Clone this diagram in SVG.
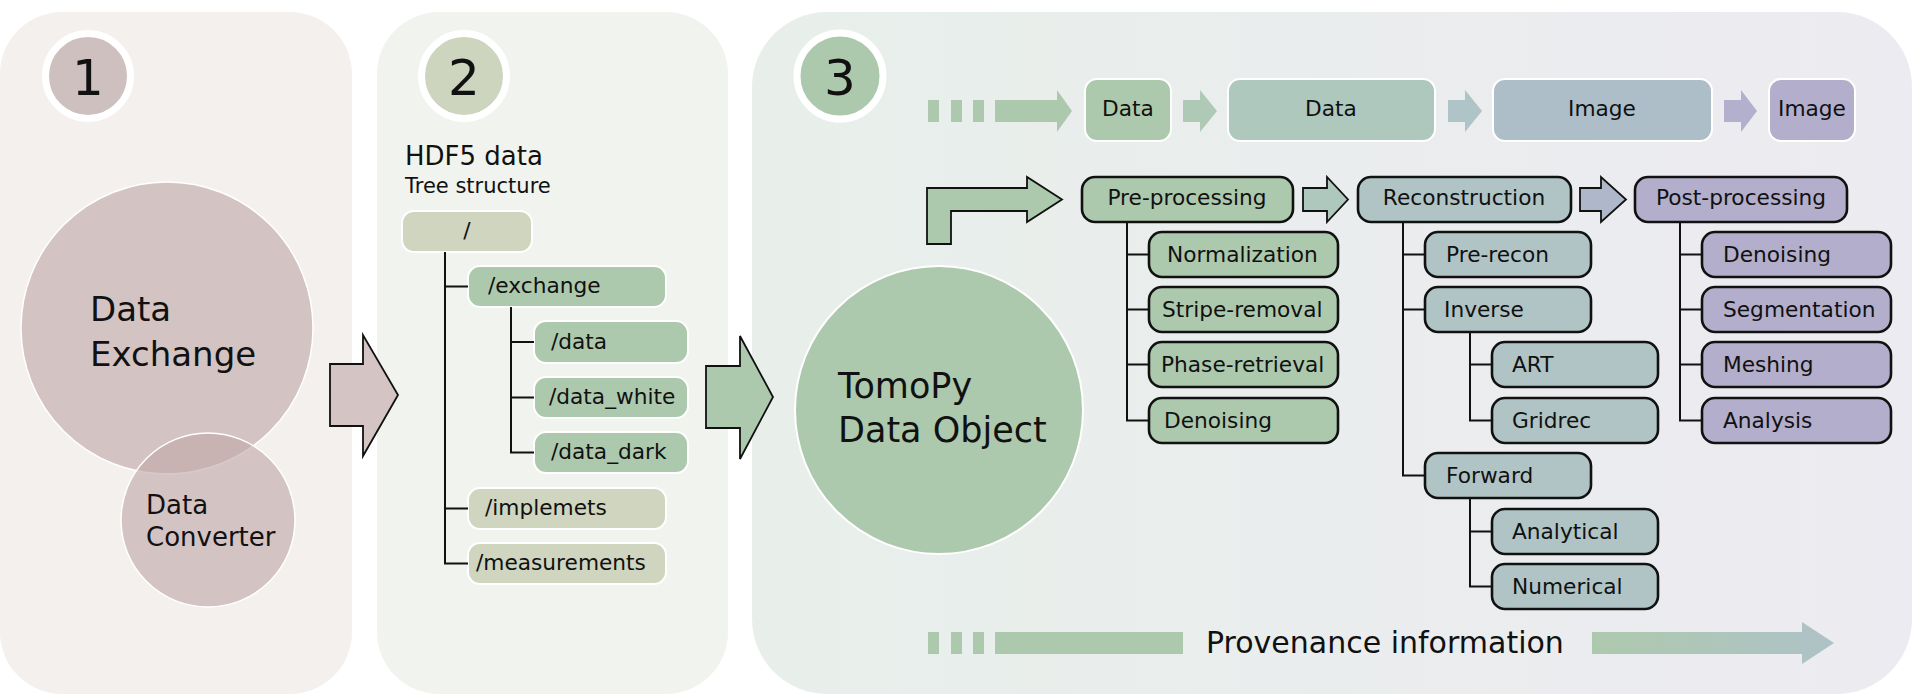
<svg xmlns="http://www.w3.org/2000/svg" width="1915" height="695" viewBox="0 0 1915 695">
<style>
.t{font-family:"DejaVu Sans","Liberation Sans",sans-serif;fill:#111}
.lb{font-size:21.7px}
.c{text-anchor:middle}
.hb{stroke:#111;stroke-width:2.6}
.wb{stroke:#fff;stroke-width:2}
.ln{stroke:#111;stroke-width:2;fill:none}
.big{stroke:#111;stroke-width:1.8}
.num{font-size:50px;text-anchor:middle}
.green{fill:#adc9ad}
.olive{fill:#cfd5bf}
.teal{fill:#aec8be}
.blue{fill:#b0c4c6}
.blue2{fill:#aebec8}
.lav{fill:#b3aecb}
.pink{fill:#c0a8a8;fill-opacity:0.62}
</style>
<defs>
<linearGradient id="p3bg" x1="0" y1="0" x2="1" y2="0">
<stop offset="0" stop-color="#e8efea"/>
<stop offset="1" stop-color="#ecebf1"/>
</linearGradient>
<linearGradient id="provg" x1="1592" y1="0" x2="1834" y2="0" gradientUnits="userSpaceOnUse">
<stop offset="0" stop-color="#adc9ad"/>
<stop offset="1" stop-color="#aec2c7"/>
</linearGradient>
</defs>
<rect width="1915" height="695" fill="#fff"/>

<g id="panel1">
<rect x="0" y="12" width="352" height="682" rx="62" fill="#f3f0ee"/>
<g id="step1">
<circle cx="88" cy="76" r="42.5" fill="#cfc0c0" stroke="#fff" stroke-width="7"/>
<text class="t num" x="88" y="95">1</text>
</g>
<g id="data-exchange">
<circle cx="167" cy="328" r="146" class="pink" stroke="#fff" stroke-width="1.5"/>
<text class="t" x="90" y="321" font-size="34">Data</text>
<text class="t" x="90" y="366" font-size="34">Exchange</text>
</g>
<g id="data-converter">
<circle cx="208" cy="520" r="87" class="pink" stroke="#fff" stroke-width="1.5"/>
<text class="t" x="146" y="514" font-size="26">Data</text>
<text class="t" x="146" y="546" font-size="26">Converter</text>
</g>
</g>

<g id="panel2">
<rect x="377" y="12" width="351" height="682" rx="62" fill="#f0f3ee"/>
<g id="step2">
<circle cx="464" cy="76" r="42.5" fill="#cdd5bf" stroke="#fff" stroke-width="7"/>
<text class="t num" x="464" y="95">2</text>
</g>
<text class="t" x="405" y="165" font-size="26">HDF5 data</text>
<text class="t" x="405" y="193" font-size="21">Tree structure</text>
<g id="h-root"><rect x="402" y="211" width="130" height="41" rx="12" class="olive wb"/><text class="t lb c" x="467" y="238">/</text></g>
<g id="h-exchange"><rect x="468" y="266" width="198" height="41" rx="12" class="green wb"/><text class="t lb" x="488" y="293">/exchange</text></g>
<g id="h-data"><rect x="534" y="321" width="154" height="42" rx="12" class="green wb"/><text class="t lb" x="551" y="348.5">/data</text></g>
<g id="h-data-white"><rect x="534" y="377" width="154" height="41" rx="12" class="green wb"/><text class="t lb" x="549" y="404">/data_white</text></g>
<g id="h-data-dark"><rect x="534" y="432" width="154" height="41" rx="12" class="green wb"/><text class="t lb" x="551" y="459">/data_dark</text></g>
<g id="h-implemets"><rect x="468" y="488" width="198" height="41" rx="12" class="olive wb"/><text class="t lb" x="485" y="515">/implemets</text></g>
<g id="h-measurements"><rect x="468" y="543" width="198" height="41" rx="12" class="olive wb"/><text class="t lb" x="476" y="570">/measurements</text></g>
</g>

<g id="panel3">
<rect x="752" y="12" width="1160" height="682" rx="75" fill="url(#p3bg)"/>
<g id="step3">
<circle cx="840" cy="76" r="43" fill="#adc9ad" stroke="#fff" stroke-width="7"/>
<text class="t num" x="840" y="95">3</text>
</g>
<g id="tomopy">
<circle cx="939" cy="410" r="144" class="green" stroke="#fff" stroke-width="2"/>
<text class="t" x="838" y="398" font-size="35">TomoPy</text>
<text class="t" x="838" y="442" font-size="35">Data Object</text>
</g>

<g id="top-data1"><rect x="1085" y="79" width="86" height="62" rx="12" class="green wb"/><text class="t lb c" x="1128" y="116">Data</text></g>
<g id="top-data2"><rect x="1228" y="79" width="207" height="62" rx="12" class="teal wb"/><text class="t lb c" x="1331" y="116">Data</text></g>
<g id="top-image1"><rect x="1493" y="79" width="219" height="62" rx="12" class="blue2 wb"/><text class="t lb c" x="1602" y="116">Image</text></g>
<g id="top-image2"><rect x="1769" y="79" width="86" height="62" rx="12" class="lav wb"/><text class="t lb c" x="1812" y="116">Image</text></g>

<g id="pre-processing"><rect x="1082" y="177" width="211" height="45" rx="13" class="green hb"/><text class="t lb c" x="1187" y="205">Pre-processing</text></g>
<g id="normalization"><rect x="1149" y="232" width="189" height="45" rx="13" class="green hb"/><text class="t lb" x="1167" y="261.5">Normalization</text></g>
<g id="stripe-removal"><rect x="1149" y="287" width="189" height="45" rx="13" class="green hb"/><text class="t lb" x="1162" y="316.5">Stripe-removal</text></g>
<g id="phase-retrieval"><rect x="1149" y="342" width="189" height="45" rx="13" class="green hb"/><text class="t lb" x="1161" y="371.5">Phase-retrieval</text></g>
<g id="pre-denoising"><rect x="1149" y="398" width="189" height="45" rx="13" class="green hb"/><text class="t lb" x="1164" y="427.5">Denoising</text></g>

<g id="reconstruction"><rect x="1358" y="177" width="213" height="45" rx="13" class="blue hb"/><text class="t lb c" x="1464" y="205">Reconstruction</text></g>
<g id="pre-recon"><rect x="1425" y="232" width="166" height="45" rx="13" class="blue hb"/><text class="t lb" x="1446" y="261.5">Pre-recon</text></g>
<g id="inverse"><rect x="1425" y="287" width="166" height="45" rx="13" class="blue hb"/><text class="t lb" x="1444" y="316.5">Inverse</text></g>
<g id="art"><rect x="1492" y="342" width="166" height="45" rx="13" class="blue hb"/><text class="t lb" x="1512" y="371.5">ART</text></g>
<g id="gridrec"><rect x="1492" y="398" width="166" height="45" rx="13" class="blue hb"/><text class="t lb" x="1512" y="427.5">Gridrec</text></g>
<g id="forward"><rect x="1425" y="453" width="166" height="45" rx="13" class="blue hb"/><text class="t lb" x="1446" y="482.5">Forward</text></g>
<g id="analytical"><rect x="1492" y="509" width="166" height="45" rx="13" class="blue hb"/><text class="t lb" x="1512" y="538.5">Analytical</text></g>
<g id="numerical"><rect x="1492" y="564" width="166" height="45" rx="13" class="blue hb"/><text class="t lb" x="1512" y="593.5">Numerical</text></g>

<g id="post-processing"><rect x="1635" y="177" width="212" height="45" rx="13" class="lav hb"/><text class="t lb c" x="1741" y="205">Post-processing</text></g>
<g id="post-denoising"><rect x="1702" y="232" width="189" height="45" rx="13" class="lav hb"/><text class="t lb" x="1723" y="261.5">Denoising</text></g>
<g id="segmentation"><rect x="1702" y="287" width="189" height="45" rx="13" class="lav hb"/><text class="t lb" x="1723" y="316.5">Segmentation</text></g>
<g id="meshing"><rect x="1702" y="342" width="189" height="45" rx="13" class="lav hb"/><text class="t lb" x="1723" y="371.5">Meshing</text></g>
<g id="analysis"><rect x="1702" y="398" width="189" height="45" rx="13" class="lav hb"/><text class="t lb" x="1723" y="427.5">Analysis</text></g>

<g id="provenance">
<rect x="928" y="632" width="11" height="22" fill="#adc9ad"/>
<rect x="951" y="632" width="11" height="22" fill="#adc9ad"/>
<rect x="973" y="632" width="11" height="22" fill="#adc9ad"/>
<rect x="995" y="632" width="188" height="22" fill="#adc9ad"/>
<text class="t" x="1206" y="653" font-size="30">Provenance information</text>
<polygon points="1592,632 1802,632 1802,622 1834,643 1802,664 1802,654 1592,654" fill="url(#provg)"/>
</g>
</g>

<g id="connectors">
<polygon class="big" points="330,364 363,364 363,335 398,395 363,456 363,426 330,426" fill="#d4c4c4"/>
<polygon class="big" points="706,366 740,366 740,336 773,397 740,459 740,428 706,428" fill="#adc9ad"/>
<path class="ln" d="M445 252V563.5H468M445 286.5H468M445 508.5H468"/>
<path class="ln" d="M511 307V452.5H534M511 342H534M511 397.5H534"/>
<g fill="#adc9ad">
<rect x="928" y="100" width="11" height="22"/>
<rect x="951" y="100" width="11" height="22"/>
<rect x="973" y="100" width="11" height="22"/>
<polygon points="995,100 1057,100 1057,90 1072,111 1057,132 1057,122 995,122"/>
</g>
<polygon points="1183,100 1200,100 1200,90 1217,111 1200,132 1200,122 1183,122" fill="#aec9b6"/>
<polygon points="1448,100 1465,100 1465,90 1482,111 1465,132 1465,122 1448,122" fill="#afc4c6"/>
<polygon points="1724,100 1741,100 1741,90 1757,111 1741,132 1741,122 1724,122" fill="#b2b0cc"/>
<polygon class="big" points="927,244 927,188 1027,188 1027,177 1062,199.5 1027,222 1027,211 951,211 951,244" fill="#adc9ad"/>
<polygon class="big" points="1303,188 1327,188 1327,177 1348,199.5 1327,222 1327,211 1303,211" fill="#aec8be"/>
<polygon class="big" points="1580,188 1601,188 1601,177 1626,199.5 1601,222 1601,211 1580,211" fill="#aeb8ca"/>
<path class="ln" d="M1127 222V420.5H1149M1127 254.5H1149M1127 309.5H1149M1127 364.5H1149"/>
<path class="ln" d="M1403 222V475.5H1425M1403 254.5H1425M1403 309.5H1425"/>
<path class="ln" d="M1470 332V420.5H1492M1470 364.5H1492"/>
<path class="ln" d="M1470 498V586.5H1492M1470 531.5H1492"/>
<path class="ln" d="M1680 222V420.5H1702M1680 254.5H1702M1680 309.5H1702M1680 364.5H1702"/>
</g>
</svg>
